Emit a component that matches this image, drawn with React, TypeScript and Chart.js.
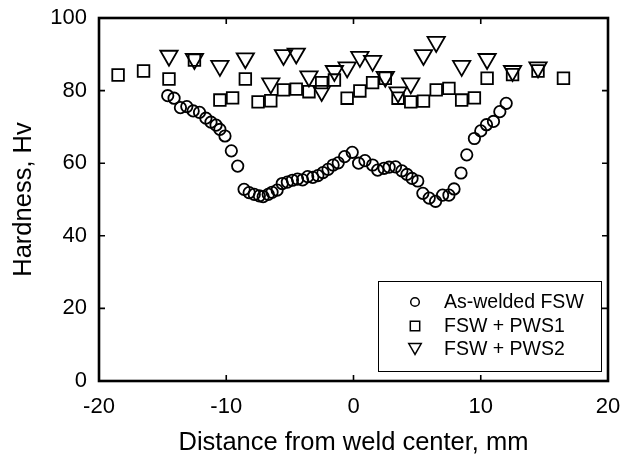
import React, { useEffect, useRef } from 'react';
import { Chart, registerables } from 'chart.js';

Chart.register(...registerables);

// ---------- data ----------
const seriesLabels = ['As-welded FSW', 'FSW + PWS1', 'FSW + PWS2'];

const asWeldedX = [
  -14.6, -14.1, -13.6, -13.1, -12.6, -12.1, -11.6, -11.2, -10.8, -10.5, -10.1, -9.6, -9.1,
  -8.6, -8.2, -7.8, -7.4, -7.1, -6.7, -6.4, -6.0, -5.6, -5.2, -4.8, -4.4, -4.0, -3.6, -3.2,
  -2.8, -2.4, -2.0, -1.6, -1.2, -0.7, -0.1, 0.4, 0.9, 1.5, 1.9, 2.4, 2.8, 3.3, 3.8, 4.2,
  4.6, 5.05, 5.45, 5.95, 6.45, 7.0, 7.5, 7.9, 8.45, 8.9, 9.5, 10.0, 10.45, 11.0, 11.5, 12.0,
];
const asWeldedY = [
  78.6, 77.9, 75.3, 75.6, 74.4, 74.0, 72.4, 71.3, 70.5, 69.3, 67.5, 63.4, 59.2,
  52.8, 51.9, 51.4, 51.0, 50.8, 51.4, 52.0, 52.6, 54.4, 54.8, 55.3, 55.6, 55.4, 56.3, 56.1,
  56.6, 57.4, 58.3, 59.5, 60.1, 61.8, 63.0, 60.0, 60.7, 59.5, 58.1, 58.6, 58.9, 59.0, 57.9, 56.9,
  55.8, 55.1, 51.7, 50.4, 49.5, 51.2, 51.2, 52.9, 57.3, 62.3, 66.8, 68.9, 70.6, 71.5, 74.2, 76.5,
];

const pws1X = [
  -18.5, -16.5, -14.5, -12.5, -10.5, -9.5, -8.5, -7.5, -6.5, -5.5, -4.5, -3.5, -2.5, -1.5, -0.5,
  0.5, 1.5, 2.5, 3.5, 4.5, 5.5, 6.5, 7.5, 8.5, 9.5, 10.5, 12.5, 14.5, 16.5,
];
const pws1Y = [
  84.3, 85.4, 83.2, 88.4, 77.4, 78.0, 83.2, 76.9, 77.2, 80.2, 80.4, 79.7, 82.2, 82.9, 77.9,
  79.9, 82.2, 83.4, 77.9, 76.9, 77.1, 80.2, 80.6, 77.4, 78.0, 83.4, 84.4, 85.4, 83.4,
];

const pws2X = [
  -14.5, -12.5, -10.5, -8.5, -6.5, -5.5, -4.5, -3.5, -2.5, -1.5, -0.5,
  0.5, 1.5, 2.5, 3.5, 4.5, 5.5, 6.5, 8.5, 10.5, 12.5, 14.5,
];
const pws2Y = [
  89.6, 88.7, 86.8, 88.9, 82.0, 89.8, 90.2, 83.9, 79.9, 85.4, 86.4,
  89.3, 88.2, 83.8, 79.5, 82.0, 89.8, 93.4, 86.8, 88.7, 85.4, 86.4,
];

const xTicks = [-20, -10, 0, 10, 20];
const yTicks = [0, 20, 40, 60, 80, 100];
const xTitle = 'Distance from weld center, mm';
const yTitle = 'Hardness, Hv';

// ---------- styling ----------
const FONT = '"Liberation Sans", Arial, Helvetica, sans-serif';
const W = 623;
const H = 459;

const toPoints = (xs: number[], ys: number[]) => xs.map((x, i) => ({ x, y: ys[i] }));

function drawLegendMarker(ctx: CanvasRenderingContext2D, style: string, cx: number, cy: number) {
  ctx.beginPath();
  if (style === 'circle') {
    ctx.arc(cx, cy, 4.3, 0, Math.PI * 2);
  } else if (style === 'rect') {
    ctx.rect(cx - 4.7, cy - 4.7, 9.4, 9.4);
  } else {
    const r = 7.2;
    const c = cy - r * 0.25;
    ctx.moveTo(cx, c + r);
    ctx.lineTo(cx - r * 0.866, c - r * 0.5);
    ctx.lineTo(cx + r * 0.866, c - r * 0.5);
    ctx.closePath();
  }
  ctx.stroke();
}

const framePlugin = {
  id: 'frameAndLegend',
  afterDatasetsDraw(chart: any) {
    const { ctx, chartArea } = chart;
    const { left, right, top, bottom } = chartArea;
    const xs = chart.scales.x;
    const ys = chart.scales.y;
    ctx.save();
    ctx.strokeStyle = '#000';
    // inward ticks
    ctx.lineWidth = 1.6;
    const tl = 6;
    ctx.beginPath();
    xTicks.forEach((v) => {
      const px = xs.getPixelForValue(v);
      if (Math.abs(px - left) < 2 || Math.abs(px - right) < 2) return;
      ctx.moveTo(px, bottom);
      ctx.lineTo(px, bottom - tl);
      ctx.moveTo(px, top);
      ctx.lineTo(px, top + tl);
    });
    yTicks.forEach((v) => {
      const py = ys.getPixelForValue(v);
      if (Math.abs(py - top) < 2 || Math.abs(py - bottom) < 2) return;
      ctx.moveTo(left, py);
      ctx.lineTo(left + tl, py);
      ctx.moveTo(right, py);
      ctx.lineTo(right - tl, py);
    });
    ctx.stroke();
    // frame
    ctx.lineWidth = 2.6;
    ctx.strokeRect(left, top, right - left, bottom - top);

    // legend
    const bw = 223;
    const bh = 90;
    const bx = right - 7 - bw;
    const by = bottom - 10 - bh;
    ctx.fillStyle = '#fff';
    ctx.fillRect(bx, by, bw, bh);
    ctx.lineWidth = 1;
    ctx.strokeRect(bx + 0.5, by + 0.5, bw, bh);
    const rows = [21, 45, 68];
    ctx.font = `19.5px ${FONT}`;
    ctx.textBaseline = 'middle';
    ctx.textAlign = 'left';
    chart.data.datasets.forEach((ds: any, i: number) => {
      const cy = by + rows[i];
      ctx.lineWidth = 1.5;
      ctx.strokeStyle = '#000';
      drawLegendMarker(ctx, ds.pointStyle, bx + 37, cy);
      ctx.fillStyle = '#000';
      ctx.fillText(ds.label, bx + 66, cy + 1);
    });
    ctx.restore();
  },
};

const zeroPad = (s: any) => {
  s.paddingLeft = 0;
  s.paddingRight = 0;
  s.paddingTop = 0;
  s.paddingBottom = 0;
};

export default function App() {
  const ref = useRef<HTMLCanvasElement | null>(null);

  useEffect(() => {
    if (!ref.current) return;
    const common = {
      showLine: false,
      pointBorderColor: '#000',
      pointBackgroundColor: 'rgba(0,0,0,0)',
      borderColor: '#000',
      backgroundColor: 'rgba(0,0,0,0)',
    };
    const chart = new Chart(ref.current, {
      type: 'scatter',
      data: {
        datasets: [
          {
            ...common,
            label: seriesLabels[0],
            data: toPoints(asWeldedX, asWeldedY),
            pointStyle: 'circle',
            pointRadius: 5.7,
            pointBorderWidth: 1.8,
          },
          {
            ...common,
            label: seriesLabels[1],
            data: toPoints(pws1X, pws1Y),
            pointStyle: 'rect',
            pointRadius: 8.2,
            pointBorderWidth: 1.8,
          },
          {
            ...common,
            label: seriesLabels[2],
            data: toPoints(pws2X, pws2Y),
            pointStyle: 'triangle',
            pointRotation: 180,
            pointRadius: 10,
            pointBorderWidth: 1.8,
          },
        ],
      },
      options: {
        animation: false,
        responsive: false,
        devicePixelRatio: 1,
        events: [],
        layout: { padding: { top: 18, right: 15, left: 0, bottom: 0 } },
        plugins: {
          legend: { display: false },
          tooltip: { enabled: false },
        },
        scales: {
          x: {
            type: 'linear',
            min: -20,
            max: 20,
            afterBuildTicks: (s: any) => {
              s.ticks = xTicks.map((v) => ({ value: v }));
            },
            afterFit: (s: any) => {
              s.height = 78;
              zeroPad(s);
            },
            grid: { display: false, drawTicks: false },
            border: { display: false },
            ticks: {
              color: '#000',
              padding: 13,
              maxRotation: 0,
              font: { family: FONT, size: 22 },
            },
            title: {
              display: true,
              text: xTitle,
              color: '#000',
              font: { family: FONT, size: 25.5 },
              padding: { top: 0, bottom: 1 },
            },
          },
          y: {
            type: 'linear',
            min: 0,
            max: 100,
            afterBuildTicks: (s: any) => {
              s.ticks = yTicks.map((v) => ({ value: v }));
            },
            afterFit: (s: any) => {
              s.width = 99;
              zeroPad(s);
            },
            grid: { display: false, drawTicks: false },
            border: { display: false },
            ticks: {
              color: '#000',
              padding: 12,
              font: { family: FONT, size: 22 },
            },
            title: {
              display: true,
              text: yTitle,
              color: '#000',
              font: { family: FONT, size: 25.5 },
              padding: { top: 8.7, bottom: 0 },
            },
          },
        },
      },
      plugins: [framePlugin],
    } as any);
    return () => chart.destroy();
  }, []);

  return (
    <div style={{ position: 'fixed', left: 0, top: 0, width: W, height: H, background: '#fff' }}>
      <canvas ref={ref} width={W} height={H} style={{ width: W, height: H, display: 'block' }} />
    </div>
  );
}
